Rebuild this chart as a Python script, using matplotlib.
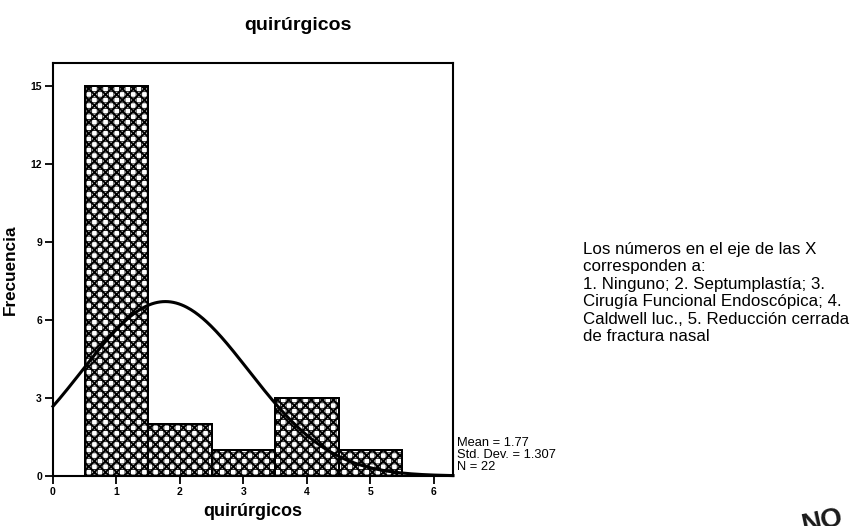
import numpy as np
import matplotlib
matplotlib.use("Agg")
import matplotlib.pyplot as plt

plt.rcParams['font.family'] = ['Liberation Sans', 'DejaVu Sans']

categories = [1, 2, 3, 4, 5]
counts = [15, 2, 1, 3, 1]
mean_val = 1.77
std_val = 1.307
n_val = 22
xticks = [0, 1, 2, 3, 4, 5, 6]
yticks = [0, 3, 6, 9, 12, 15]

W, H = 858, 526
fig = plt.figure(figsize=(W / 100, H / 100), dpi=100)
ax = fig.add_axes([53 / W, 1 - 476 / H, (453 - 53) / W, (476 - 63) / H])

with plt.rc_context({'hatch.linewidth': 1.4}):
    ax.bar(categories, counts, width=1.0, facecolor='white', edgecolor='black',
           linewidth=1.4, hatch='xxx', zorder=2)
with plt.rc_context({'hatch.linewidth': 0.6}):
    ax.bar(categories, counts, width=1.0, facecolor='none', edgecolor='black',
           linewidth=1.4, hatch='+++', zorder=2.1)

xs = np.linspace(0, 6.3, 300)
dens = n_val * 1.0 / (std_val * np.sqrt(2 * np.pi)) * np.exp(-0.5 * ((xs - mean_val) / std_val) ** 2)
ax.plot(xs, dens, color='black', linewidth=2.2, zorder=3, clip_on=False)

ax.set_xlim(0, 6.3)
ax.set_ylim(0, 15.9)
ax.set_xticks(xticks)
ax.set_yticks(yticks)
ax.set_xticklabels([str(t) for t in xticks], fontsize=7.5, fontweight='bold')
ax.set_yticklabels([str(t) for t in yticks], fontsize=7.5, fontweight='bold')
ax.tick_params(direction='out', length=6, width=1.3, pad=2)
for s in ax.spines.values():
    s.set_linewidth(1.5)

ax.set_xlabel('quirúrgicos', fontsize=13, fontweight='bold', labelpad=4)
ax.set_ylabel('Frecuencia', fontsize=12.3, fontweight='bold', labelpad=9)

fig.text(298 / W, 1 - 25 / H, 'quirúrgicos', fontsize=14, fontweight='bold',
         ha='center', va='center')

fig.text(457 / W, 1 - 455 / H,
         f'Mean = {mean_val:.2f}\nStd. Dev. = {std_val:.3f}\nN = {n_val}',
         fontsize=9.3, ha='left', va='center', linespacing=0.98)

fig.text(583 / W, 1 - 242 / H,
         'Los números en el eje de las X\ncorresponden a:\n'
         '1. Ninguno; 2. Septumplastía; 3.\n'
         'Cirugía Funcional Endoscópica; 4.\n'
         'Caldwell luc., 5. Reducción cerrada\n'
         'de fractura nasal',
         fontsize=12.2, ha='left', va='top', linespacing=1.2)

fig.text(822 / W, 1 - 522 / H, 'NO', fontsize=20, fontweight='bold',
         rotation=12, ha='center', va='center', color='#1a1a1a')

fig.savefig('out.png', dpi=100)
